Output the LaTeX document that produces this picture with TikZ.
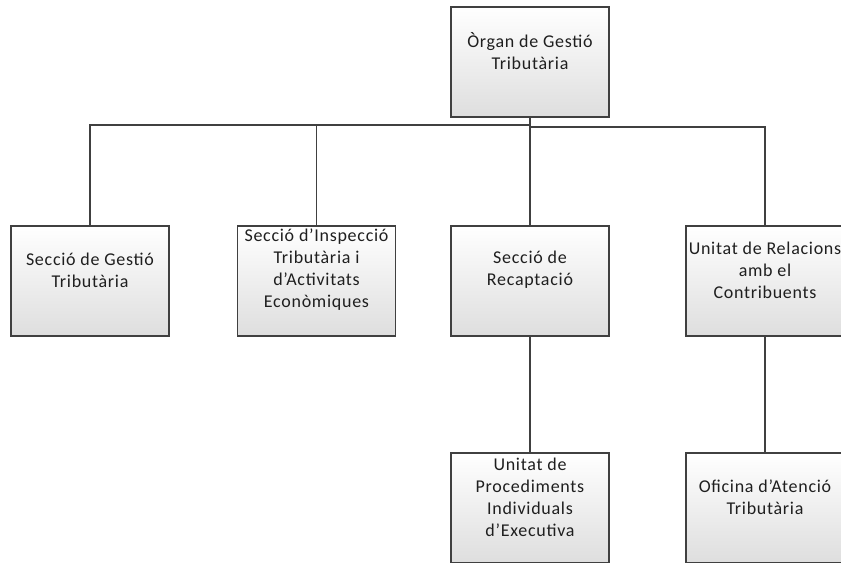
\documentclass[tikz,border=0pt]{standalone}
\usepackage{fontspec}
\setmainfont{Carlito}[LetterSpace=4]
\begin{document}
\begin{tikzpicture}[x=0.75pt,y=-0.75pt,
  box/.style={draw=black!75,line width=0.9pt,rectangle,minimum width=158*0.75pt,minimum height=110*0.75pt,inner sep=0pt,top color=white,bottom color=black!13,shading angle=0},
  txt/.style={align=center,font=\fontsize{13.5}{16.5}\selectfont,text=black!88,inner sep=0pt},
  conn/.style={draw=black!75,line width=0.8pt}]
\useasboundingbox (0,0) rectangle (841,563);
\clip (0,0) rectangle (841,563);
\node[box] (top) at (530,62) {};
\node[box] (ges) at (90,281) {};
\node[box] (ins) at (316.5,281) {};
\node[box] (rec) at (530,281) {};
\node[box] (rel) at (765,281) {};
\node[box] (pro) at (530,508) {};
\node[box] (ofi) at (765,508) {};
\node[txt] (topT) at ([yshift=8.25pt]top.center) {Òrgan de Gestió\\Tributària};
\node[txt] (gesT) at ([yshift=8.25pt]ges.center) {Secció de Gestió\\Tributària};
\node[txt] (insT) at ([yshift=8.25pt]ins.center) {Secció d’Inspecció\\Tributària i\\d’Activitats\\Econòmiques};
\node[txt] (recT) at ([yshift=8.25pt]rec.center) {Secció de\\Recaptació};
\node[txt] (relT) at ([yshift=8.25pt]rel.center) {Unitat de Relacions\\amb el\\Contribuents};
\node[txt] (proT) at ([yshift=8.25pt]pro.center) {Unitat de\\Procediments\\Individuals\\d’Executiva};
\node[txt] (ofiT) at ([yshift=8.25pt]ofi.center) {Oficina d’Atenció\\Tributària};
\coordinate (hL) at (530,125);
\coordinate (hR) at (530,127);
\draw[conn] (top.south) -- (rec.north);
\draw[conn] (hL) -| (ges.north);
\draw[conn] (hL) -| (ins.north);
\draw[conn] (hR) -| (rel.north);
\draw[conn] (rec.south) -- (pro.north);
\draw[conn] (rel.south) -- (ofi.north);
\end{tikzpicture}
\end{document}
